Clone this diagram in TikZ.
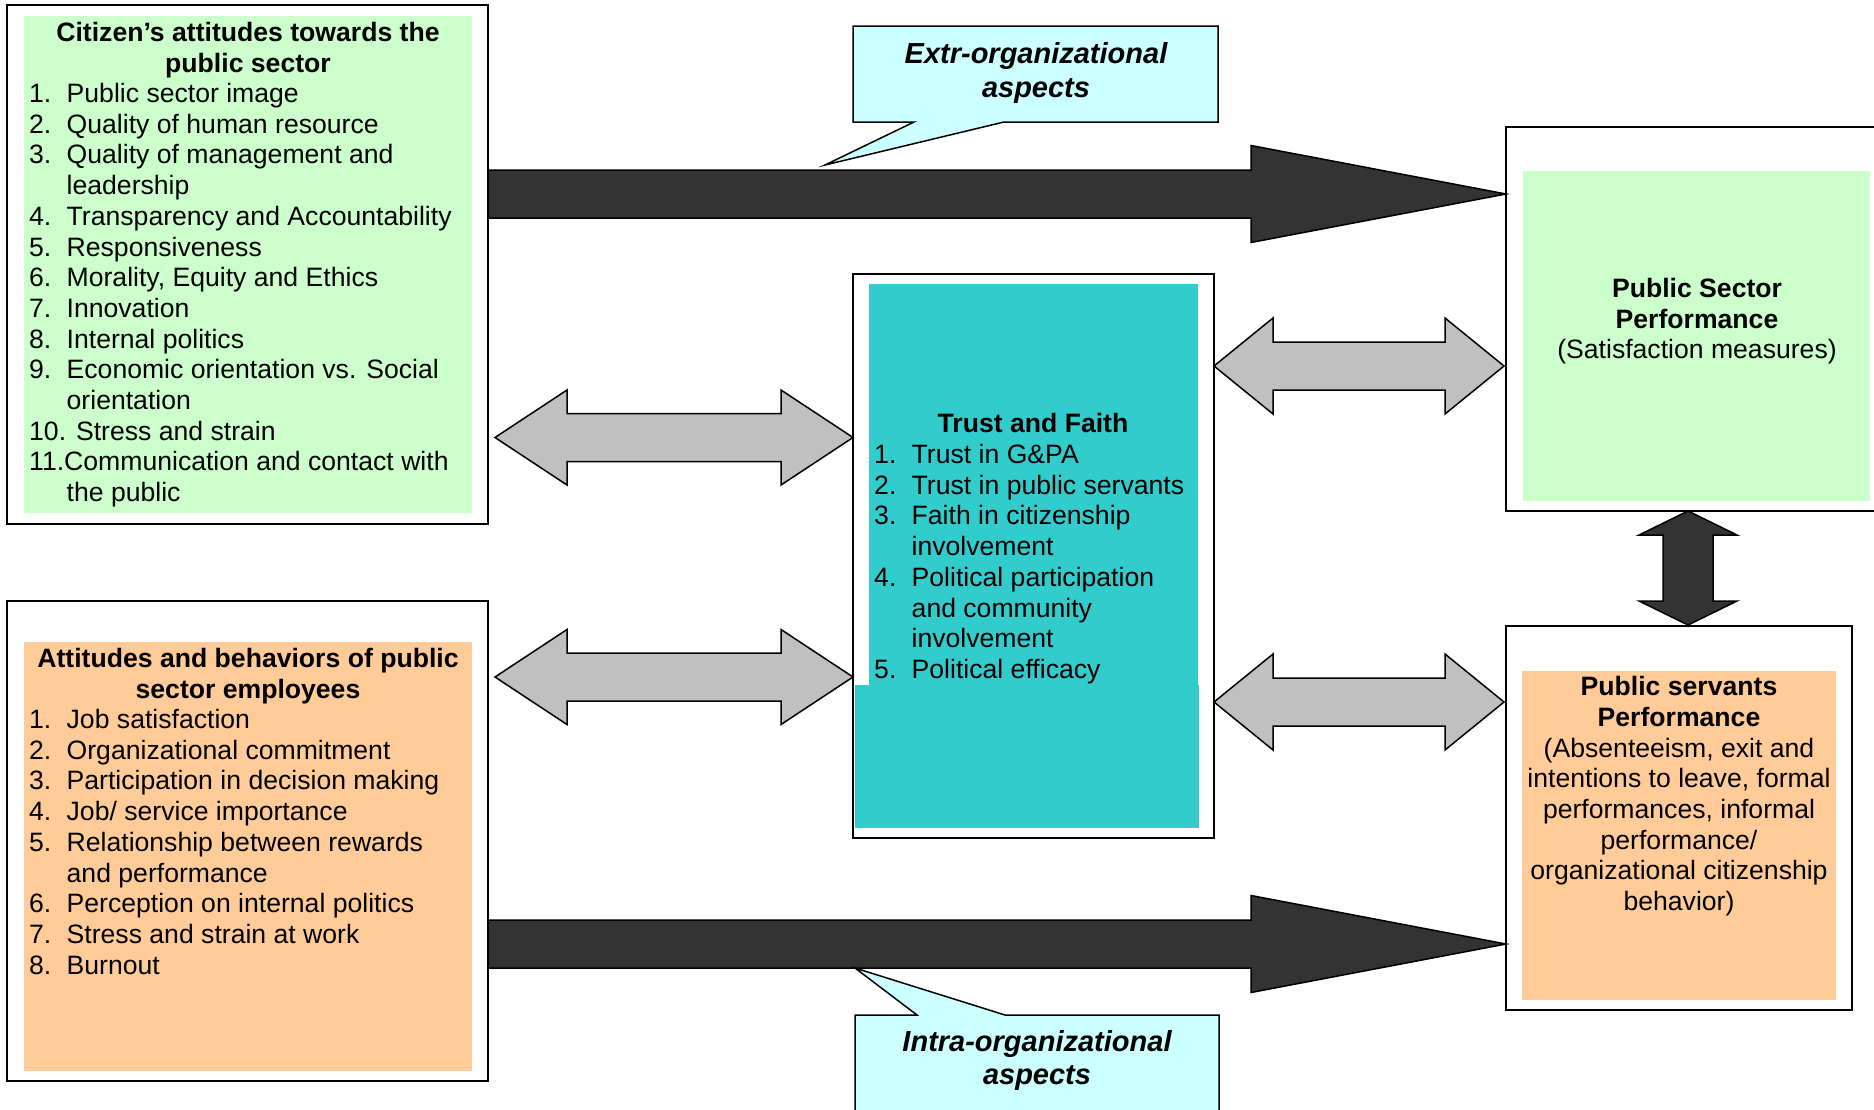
\documentclass[tikz,border=0pt]{standalone}
\usepackage{fontspec}
\setmainfont{Liberation Sans}
\definecolor{cgreen}{HTML}{CCFFCC}
\definecolor{corange}{HTML}{FFCC99}
\definecolor{cteal}{HTML}{33CCCC}
\definecolor{ccyan}{HTML}{CCFFFF}
\definecolor{cdark}{HTML}{333333}
\definecolor{cgray}{HTML}{C0C0C0}
% single right block arrow: style, x0, x1, yc, half shaft, half head, head length
\newcommand\hsarrow[7]{\draw[#1] (#2,#4-#5) -- (#3-#7,#4-#5) -- (#3-#7,#4-#6) -- (#3,#4) -- (#3-#7,#4+#6) -- (#3-#7,#4+#5) -- (#2,#4+#5) -- cycle;}
% horizontal double block arrow
\newcommand\hdarrow[7]{\draw[#1] (#2,#4) -- (#2+#7,#4-#6) -- (#2+#7,#4-#5) -- (#3-#7,#4-#5) -- (#3-#7,#4-#6) -- (#3,#4) -- (#3-#7,#4+#6) -- (#3-#7,#4+#5) -- (#2+#7,#4+#5) -- (#2+#7,#4+#6) -- cycle;}
% vertical double block arrow: style, xc, y0, y1, half shaft, half head, head length
\newcommand\vdarrow[7]{\draw[#1] (#2,#3) -- (#2+#6,#3+#7) -- (#2+#5,#3+#7) -- (#2+#5,#4-#7) -- (#2+#6,#4-#7) -- (#2,#4) -- (#2-#6,#4-#7) -- (#2-#5,#4-#7) -- (#2-#5,#3+#7) -- (#2-#6,#3+#7) -- cycle;}
\newcommand\numcol[1]{\makebox[37.5pt][l]{#1}}
\begin{document}
\begin{tikzpicture}[x=1pt,y=-1pt,
  frame/.style={draw=black,line width=2pt,fill=white,inner sep=0pt,outer sep=0pt,anchor=north west},
  panel/.style={inner sep=0pt,outer sep=0pt,anchor=north west,draw=none},
  txt/.style={font=\fontsize{26.6}{30.7}\selectfont,inner sep=0pt,anchor=base west},
  ctr/.style={font=\fontsize{26.6}{30.7}\selectfont,inner sep=0pt,anchor=base},
  bctr/.style={font=\bfseries\fontsize{26.6}{30.7}\selectfont,inner sep=0pt,anchor=base},
  callouttext/.style={font=\bfseries\itshape\fontsize{29}{33.4}\selectfont,inner sep=0pt,anchor=base},
  callout/.style={draw=black,line width=1.5pt,fill=ccyan,line join=miter},
  darkarrow/.style={draw=black,line width=1.5pt,fill=cdark,line join=miter},
  grayarrow/.style={draw=black,line width=1.5pt,fill=cgray,line join=miter}]
\useasboundingbox (0,0) rectangle (1874,1109);
\clip (0,0) rectangle (1874,1109);
\fill[white] (0,0) rectangle (1874,1109);

% ---- boxes ----
\node[frame,minimum width=481,minimum height=519] (A) at (7,5) {};
\node[panel,fill=cgreen,minimum width=448,minimum height=497] (Ap) at (24,16) {};
\node[frame,minimum width=481,minimum height=480] (B) at (7,601) {};
\node[panel,fill=corange,minimum width=448,minimum height=429] (Bp) at (24,642) {};
\node[frame,minimum width=361,minimum height=564] (C) at (853,274) {};
\node[panel,fill=cteal,minimum width=329,minimum height=401] (Cp1) at (869,284) {};
\node[panel,fill=cteal,minimum width=344,minimum height=143] (Cp2) at (855,685) {};
\node[frame,minimum width=390,minimum height=384] (P) at (1506,127) {};
\node[panel,fill=cgreen,minimum width=347,minimum height=330] (Pp) at (1523,171) {};
\node[frame,minimum width=346,minimum height=384] (S) at (1506,626) {};
\node[panel,fill=corange,minimum width=314,minimum height=329] (Sp) at (1522,671) {};

% ---- block arrows ----
\hsarrow{darkarrow}{488}{1506}{194}{24}{48.5}{255}
\hsarrow{darkarrow}{488}{1506}{944}{24}{48.5}{255}
\hdarrow{grayarrow}{495}{853}{437.5}{24}{47.5}{72}
\hdarrow{grayarrow}{495}{853}{677}{24}{47.5}{72}
\hdarrow{grayarrow}{1214}{1504}{366}{24}{48}{59}
\hdarrow{grayarrow}{1214}{1504}{702}{24}{48}{59}
\vdarrow{darkarrow}{1688}{511}{625}{25}{49}{24}

% ---- callouts ----
\draw[callout] (853,26) -- (1218,26) -- (1218,122) -- (1004,122) -- (825,165) -- (914,122) -- (853,122) -- cycle;
\draw[callout] (855,1015) -- (917,1015) -- (855,968) -- (1005,1015) -- (1219,1015) -- (1219,1125) -- (855,1125) -- cycle;
\node[callouttext] (ext1) at (1036,63) {Extr-organizational};
\node[callouttext] (ext2) at (1036,97) {aspects};
\node[callouttext] (int1) at (1037,1051) {Intra-organizational};
\node[callouttext] (int2) at (1037,1084) {aspects};

% ---- box A text ----
\node[bctr] (at1) at (248,41.5) {Citizen’s attitudes towards the};
\node[bctr] (at2) at (248,72) {public sector};
\foreach \ltext [count=\i from 0] in {
  {\numcol{1.}Public sector image},
  {\numcol{2.}Quality of human resource},
  {\numcol{3.}Quality of management and},
  {\numcol{}leadership},
  {\numcol{4.}Transparency and Accountability},
  {\numcol{5.}Responsiveness},
  {\numcol{6.}Morality, Equity and Ethics},
  {\numcol{7.}Innovation},
  {\numcol{8.}Internal politics},
  {\numcol{9.}Economic orientation vs. Social},
  {\numcol{}orientation},
  {10. Stress and strain},
  {11.Communication and contact with},
  {\numcol{}the public}}
  {\node[txt] (a\i) at (29,102.5+\i*30.7) {\ltext};}

% ---- box B text ----
\node[bctr] (bt1) at (248,667) {Attitudes and behaviors of public};
\node[bctr] (bt2) at (248,698) {sector employees};
\foreach \ltext [count=\i from 0] in {
  {\numcol{1.}Job satisfaction},
  {\numcol{2.}Organizational commitment},
  {\numcol{3.}Participation in decision making},
  {\numcol{4.}Job/ service importance},
  {\numcol{5.}Relationship between rewards},
  {\numcol{}and performance},
  {\numcol{6.}Perception on internal politics},
  {\numcol{7.}Stress and strain at work},
  {\numcol{8.}Burnout}}
  {\node[txt] (b\i) at (29,728.5+\i*30.7) {\ltext};}

% ---- center text ----
\node[bctr] (ct) at (1033,432) {Trust and Faith};
\foreach \ltext [count=\i from 0] in {
  {\numcol{1.}Trust in G\&PA},
  {\numcol{2.}Trust in public servants},
  {\numcol{3.}Faith in citizenship},
  {\numcol{}involvement},
  {\numcol{4.}Political participation},
  {\numcol{}and community},
  {\numcol{}involvement},
  {\numcol{5.}Political efficacy}}
  {\node[txt] (c\i) at (874,463.5+\i*30.7) {\ltext};}

% ---- right top text ----
\node[bctr] (p1) at (1697,297) {Public Sector};
\node[bctr] (p2) at (1697,328) {Performance};
\node[ctr] (p3) at (1697,358.5) {(Satisfaction measures)};

% ---- right bottom text ----
\node[bctr] (s1) at (1679,695) {Public servants};
\node[bctr] (s2) at (1679,726) {Performance};
\foreach \ltext [count=\i from 0] in {
  {(Absenteeism, exit and},
  {intentions to leave, formal},
  {performances, informal},
  {performance/},
  {organizational citizenship},
  {behavior)}}
  {\node[ctr] (s\i x) at (1679,757+\i*30.7) {\ltext};}
\end{tikzpicture}
\end{document}
